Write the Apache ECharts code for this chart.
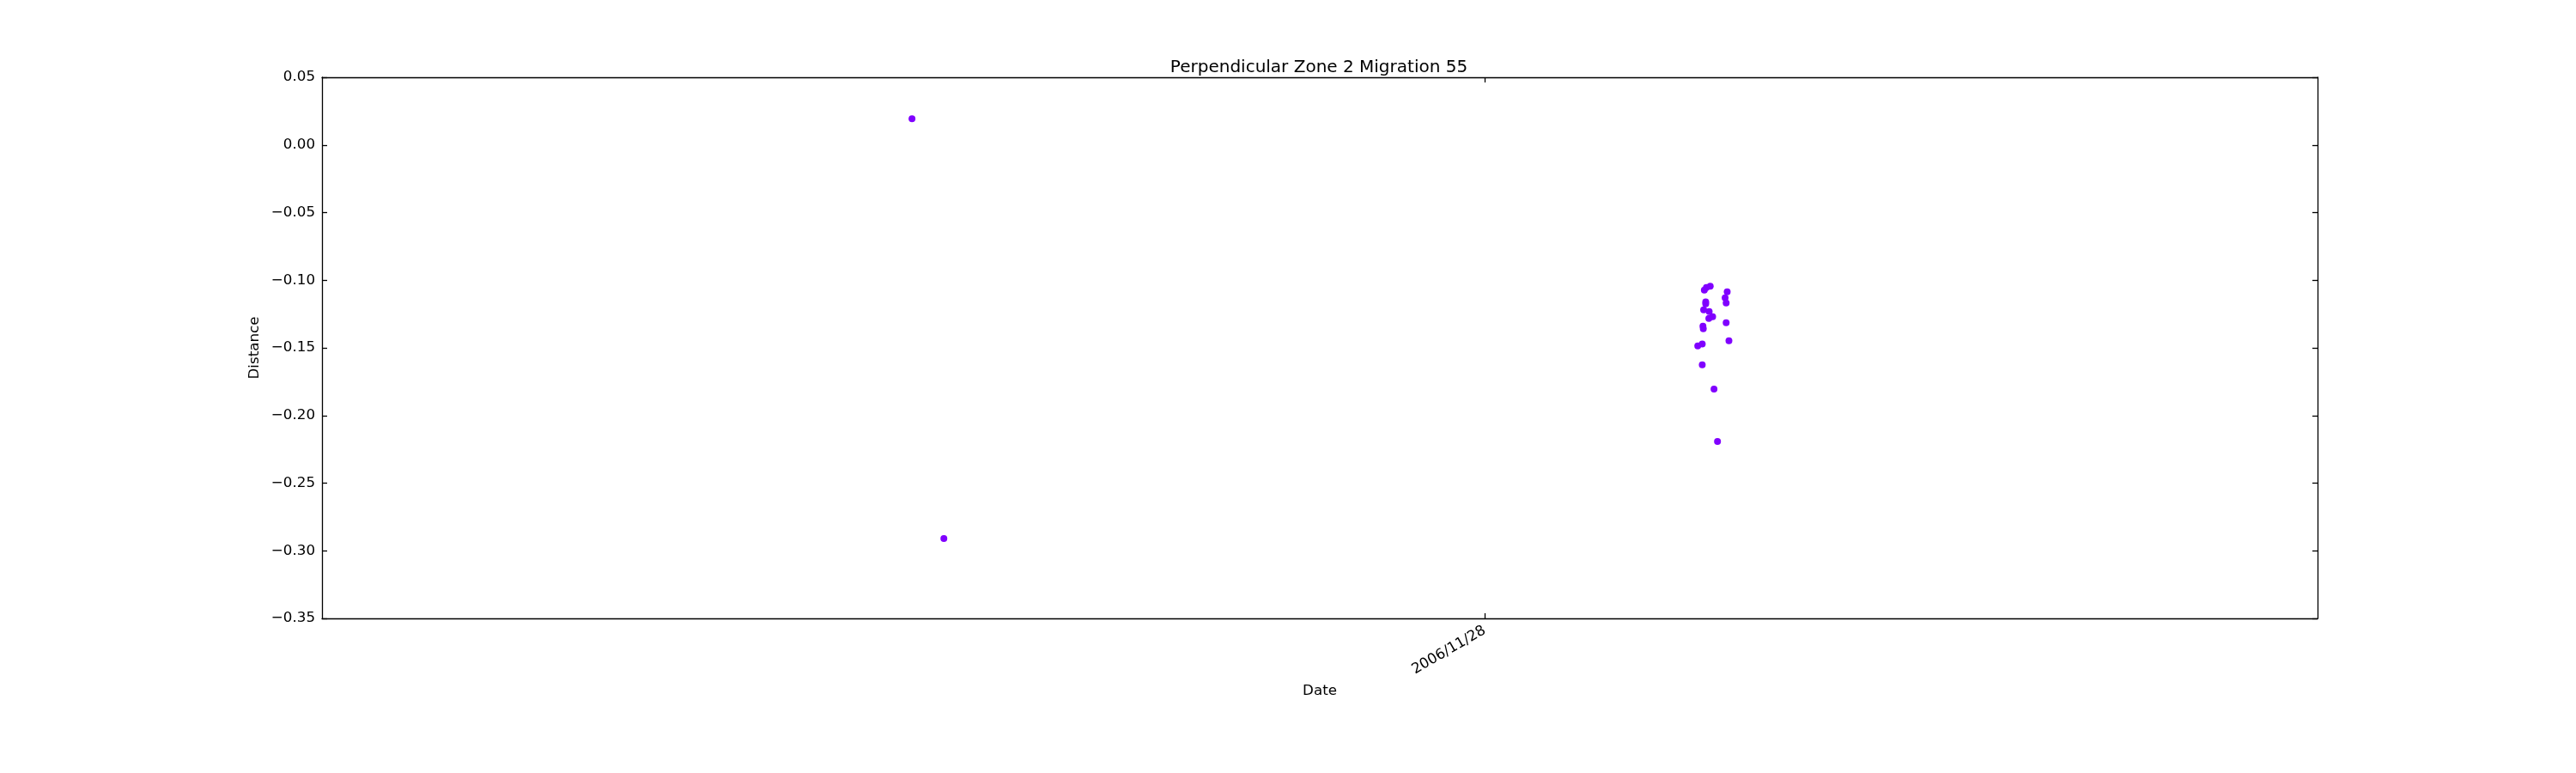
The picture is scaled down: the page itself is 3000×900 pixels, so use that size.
<!DOCTYPE html>
<html>
<head>
<meta charset="utf-8">
<script src="https://cdn.jsdelivr.net/npm/echarts@6/dist/echarts.min.js"></script>
<style>html,body{margin:0;padding:0;background:#fff}#c{width:3000px;height:900px}</style>
</head>
<body>
<div id="c"></div>
<script>
const titleText = 'Perpendicular Zone 2 Migration 55';
const xName = 'Date';
const yName = 'Distance';
const xMin = '2006-11-14 00:24';
const xMax = '2006-12-08 00:24';
const xTicks = ['2006-11-28 00:00'];
const xTickLabels = ['2006/11/28'];
const yMin = -0.35, yMax = 0.05, yStep = 0.05;

const dates = [
  '2006-11-21 02:42', '2006-11-21 11:54',
  '2006-11-30 17:06', '2006-11-30 16:00', '2006-11-30 15:24', '2006-11-30 22:00',
  '2006-11-30 21:24', '2006-11-30 21:42', '2006-11-30 15:48', '2006-11-30 15:48',
  '2006-11-30 15:12', '2006-11-30 16:48', '2006-11-30 17:48', '2006-11-30 16:42',
  '2006-11-30 21:42', '2006-11-30 15:00', '2006-11-30 15:06', '2006-11-30 22:30',
  '2006-11-30 14:48', '2006-11-30 13:30', '2006-11-30 14:48', '2006-11-30 18:12',
  '2006-11-30 19:12'
];
const distances = [
  0.0193, -0.2910,
  -0.1045, -0.1054, -0.1073, -0.1085,
  -0.1130, -0.1168, -0.1160, -0.1174,
  -0.1219, -0.1232, -0.1270, -0.1283,
  -0.1314, -0.1340, -0.1359, -0.1448,
  -0.1471, -0.1486, -0.1626, -0.1804,
  -0.2192
];

const toTs = s => new Date(s.replace(' ', 'T') + ':00').getTime();
const tickTs = xTicks.map(toTs);
const points = dates.map((d, i) => [toTs(d), distances[i]]);
const font = 'DejaVu Sans';
const fmtY = v => { const s = Math.abs(v).toFixed(2); return (v < -1e-9 ? '\u2212' : '') + s; };
const fmtX = v => {
  let best = -1, bd = Infinity;
  tickTs.forEach((t, i) => { const d = Math.abs(t - v); if (d < bd) { bd = d; best = i; } });
  return (best >= 0 && bd < 60000) ? xTickLabels[best] : '';
};

const lineStyle = { color: '#000', width: 1.3 };
const chart = echarts.init(document.getElementById('c'), null, { renderer: 'canvas' });
chart.setOption({
  animation: false,
  backgroundColor: '#fff',
  title: {
    text: titleText, left: 1531, top: 64, textAlign: 'center',
    textStyle: { fontFamily: font, fontSize: 20, fontWeight: 'normal', color: '#000' }
  },
  grid: { left: 375, right: 301, top: 90, bottom: 180, containLabel: false },
  xAxis: [{
    type: 'value', min: toTs(xMin), max: toTs(xMax), position: 'bottom',
    name: xName, nameLocation: 'middle', nameGap: 76,
    nameTextStyle: { fontFamily: font, fontSize: 16.7, color: '#000' },
    axisLine: { show: true, onZero: false, lineStyle },
    axisTick: { show: true, inside: true, length: 6, customValues: tickTs, lineStyle },
    axisLabel: {
      show: true, rotate: 30, customValues: tickTs, margin: 13,
      showMinLabel: false, showMaxLabel: false,
      fontFamily: font, fontSize: 16.7, color: '#000',
      formatter: fmtX
    },
    splitLine: { show: false }
  }, {
    type: 'value', min: toTs(xMin), max: toTs(xMax), position: 'top',
    axisLine: { show: true, onZero: false, lineStyle },
    axisTick: { show: true, inside: true, length: 6, customValues: tickTs, lineStyle },
    axisLabel: { show: false },
    splitLine: { show: false }
  }],
  yAxis: [{
    type: 'value', min: yMin, max: yMax, interval: yStep, position: 'left',
    name: yName, nameLocation: 'middle', nameGap: 60,
    nameTextStyle: { fontFamily: font, fontSize: 16.7, color: '#000' },
    axisLine: { show: true, onZero: false, lineStyle },
    axisTick: { show: true, inside: true, length: 6, lineStyle },
    axisLabel: { fontFamily: font, fontSize: 16.7, color: '#000', margin: 8, formatter: fmtY },
    splitLine: { show: false }
  }, {
    type: 'value', min: yMin, max: yMax, interval: yStep, position: 'right',
    axisLine: { show: true, onZero: false, lineStyle },
    axisTick: { show: true, inside: true, length: 6, lineStyle },
    axisLabel: { show: false },
    splitLine: { show: false }
  }],
  series: [{
    type: 'scatter', xAxisIndex: 0, yAxisIndex: 0,
    data: points, symbol: 'circle', symbolSize: 8,
    itemStyle: { color: '#8000ff', opacity: 1 }
  }]
});
</script>
</body>
</html>
